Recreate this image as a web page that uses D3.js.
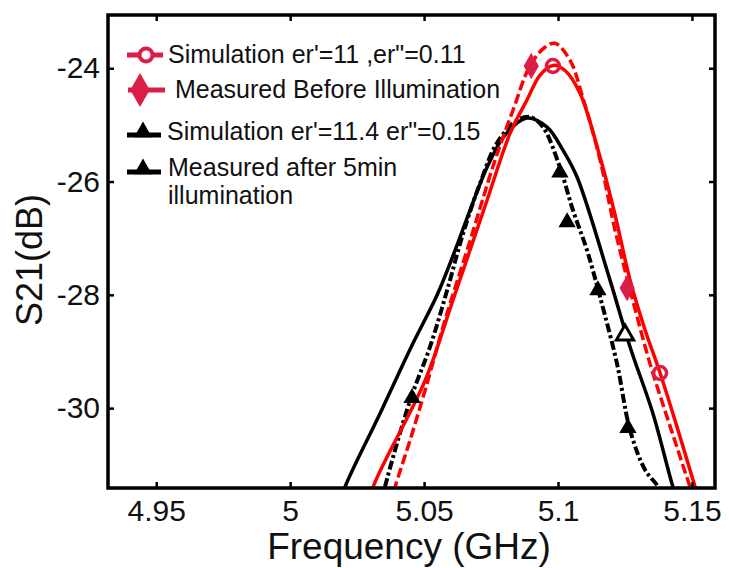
<!DOCTYPE html>
<html>
<head>
<meta charset="utf-8">
<script src="https://cdn.jsdelivr.net/npm/d3@7"></script>
<style>
  body { margin: 0; background: #fff; }
  svg { font-family: "Liberation Sans", Arial, sans-serif; }
</style>
</head>
<body>
<div id="chart"><svg></svg></div>
<script>
// values: frequency (GHz) and S21 (dB)
const simRedF = [5.0290, 5.0310, 5.0504, 5.0608, 5.0735, 5.0821, 5.0884, 5.0933, 5.0981, 5.1026, 5.1082, 5.1157, 5.1213, 5.1269, 5.1325, 5.1381, 5.1448, 5.1504, 5.1525];
const simRedV = [-31.8, -31.39, -29.51, -28.09, -26.33, -25.15, -24.56, -24.12, -23.95, -24.04, -24.44, -25.57, -26.59, -27.74, -28.62, -29.38, -30.39, -31.27, -31.6];

const measRedF = [5.0375, 5.0392, 5.0448, 5.0504, 5.0578, 5.0672, 5.0765, 5.0832, 5.0896, 5.0951, 5.0989, 5.1045, 5.1090, 5.1157, 5.1213, 5.1276, 5.1343, 5.1399, 5.1444, 5.1493, 5.1510];
const measRedV = [-31.7, -31.39, -30.56, -29.68, -28.45, -27.04, -25.62, -24.74, -23.95, -23.63, -23.56, -23.86, -24.48, -25.62, -26.86, -28.04, -29.21, -30.04, -30.69, -31.39, -31.6];

const simBlackF = [5.0185, 5.0205, 5.0336, 5.0455, 5.0549, 5.0616, 5.0679, 5.0739, 5.0802, 5.0884, 5.0959, 5.1019, 5.1071, 5.1194, 5.1269, 5.1354, 5.1429, 5.1445];
const simBlackV = [-31.7, -31.39, -30.09, -28.89, -28.0, -27.21, -26.41, -25.71, -25.18, -24.88, -25.04, -25.45, -25.92, -27.74, -28.92, -30.09, -31.39, -31.6];

const measBlackF = [5.0340, 5.0354, 5.0448, 5.0522, 5.0586, 5.0646, 5.0709, 5.0772, 5.0847, 5.0896, 5.0944, 5.1007, 5.1056, 5.1108, 5.1157, 5.1220, 5.1269, 5.1325, 5.1373, 5.1385];
const measBlackV = [-31.7, -31.39, -29.86, -28.92, -27.92, -26.91, -26.03, -25.32, -24.92, -24.86, -25.04, -25.75, -26.51, -27.21, -28.04, -29.21, -30.39, -31.09, -31.39, -31.6];

// marker spots
const simRedMarkF = [5.0981, 5.1381];
const simRedMarkV = [-23.96, -29.38];
const measRedMarkF = [5.0900, 5.1258];
const measRedMarkV = [-23.96, -27.88];
const simBlackMarkF = [5.1250];
const simBlackMarkV = [-28.71];
const measBlackMarkF = [5.0455, 5.1007, 5.1034, 5.1149, 5.1261];
const measBlackMarkV = [-29.82, -25.84, -26.72, -27.92, -30.35];

const xTicks = [4.95, 5, 5.05, 5.1, 5.15];
const yTicks = [-24, -26, -28, -30];

const legendLabels = ["Simulation er'=11 ,er\"=0.11", " Measured Before Illumination", "Simulation er'=11.4 er\"=0.15", "Measured after 5min", "illumination"];

const margin = { top: 15, right: 14, bottom: 80, left: 108 };
const width = 729 - margin.left - margin.right;
const height = 488 - margin.top;

const svg = d3.select("#chart svg")
  .attr("width", 729)
  .attr("height", 568);

const g = svg.append("g")
  .attr("transform", `translate(${margin.left}, ${margin.top})`);

const xScale = d3.scaleLinear().domain([4.932, 5.1586]).range([0, width]);
const yScale = d3.scaleLinear().domain([-31.41, -23.06]).range([height, 0]);

const red = "#ff0000";
const crimson = "#dc1e46";

g.append("clipPath").attr("id", "clip")
  .append("rect").attr("width", width).attr("height", height);

const line = d3.line()
  .x(d => xScale(d[0]))
  .y(d => yScale(d[1]))
  .curve(d3.curveCatmullRom);

const zip = (a, b) => a.map((v, i) => [v, b[i]]);

const plot = g.append("g").attr("clip-path", "url(#clip)");

plot.append("path").datum(zip(simBlackF, simBlackV))
  .attr("d", line).attr("fill", "none").attr("stroke", "#000").attr("stroke-width", 3.5);
plot.append("path").datum(zip(measBlackF, measBlackV))
  .attr("d", line).attr("fill", "none").attr("stroke", "#000").attr("stroke-width", 4)
  .attr("stroke-dasharray", "9,3,3,3");
plot.append("path").datum(zip(simRedF, simRedV))
  .attr("d", line).attr("fill", "none").attr("stroke", red).attr("stroke-width", 3.5);
plot.append("path").datum(zip(measRedF, measRedV))
  .attr("d", line).attr("fill", "none").attr("stroke", red).attr("stroke-width", 3.5)
  .attr("stroke-dasharray", "10,4");

const tri = d3.symbol().type(d3.symbolTriangle).size(130);
const dia = d3.symbol().type(d3.symbolDiamond).size(200);

plot.selectAll(".simRed").data(zip(simRedMarkF, simRedMarkV)).join("circle")
  .attr("cx", d => xScale(d[0])).attr("cy", d => yScale(d[1])).attr("r", 6.5)
  .attr("fill", "none").attr("stroke", crimson).attr("stroke-width", 3.5);
plot.selectAll(".measRed").data(zip(measRedMarkF, measRedMarkV)).join("path")
  .attr("d", dia).attr("transform", d => `translate(${xScale(d[0])},${yScale(d[1])})`)
  .attr("fill", crimson);
plot.selectAll(".simBlack").data(zip(simBlackMarkF, simBlackMarkV)).join("path")
  .attr("d", tri).attr("transform", d => `translate(${xScale(d[0])},${yScale(d[1])})`)
  .attr("fill", "#fff").attr("stroke", "#000").attr("stroke-width", 3);
plot.selectAll(".measBlack").data(zip(measBlackMarkF, measBlackMarkV)).join("path")
  .attr("d", tri).attr("transform", d => `translate(${xScale(d[0])},${yScale(d[1])})`)
  .attr("fill", "#000");

// axes with inward ticks on all four sides
const xAxis = d3.axisBottom(xScale).tickValues(xTicks).tickSize(-6).tickPadding(12).tickFormat(d3.format("~g"));
const yAxis = d3.axisLeft(yScale).tickValues(yTicks).tickSize(-6).tickPadding(8).tickFormat(d => d);

const gx = g.append("g").attr("transform", `translate(0, ${height})`).call(xAxis);
const gy = g.append("g").call(yAxis);
g.append("g").call(d3.axisTop(xScale).tickValues(xTicks).tickSize(-6).tickFormat(""));
g.append("g").attr("transform", `translate(${width}, 0)`).call(d3.axisRight(yScale).tickValues(yTicks).tickSize(-6).tickFormat(""));

g.selectAll(".domain").remove();
g.selectAll(".tick line").attr("stroke", "#000").attr("stroke-width", 2.5);
gx.selectAll("text").attr("font-size", 30).attr("fill", "#111");
gy.selectAll("text").attr("font-size", 30).attr("fill", "#111");

g.append("rect").attr("width", width).attr("height", height)
  .attr("fill", "none").attr("stroke", "#000").attr("stroke-width", 3.5);

svg.append("text").attr("x", 409).attr("y", 559).attr("text-anchor", "middle")
  .attr("font-size", 37).attr("fill", "#111").text("Frequency (GHz)");
svg.append("text").attr("transform", "translate(42, 260) rotate(-90)").attr("text-anchor", "middle")
  .attr("font-size", 36).attr("fill", "#111").text("S21(dB)");

// legend
const leg = svg.append("g");
const rowY = [55, 90, 135, 172];
const textY = [63, 98, 140, 176, 204];
const textX = [168, 168, 167, 168, 168];

leg.append("line").attr("x1", 127).attr("x2", 163).attr("y1", rowY[0]).attr("y2", rowY[0])
  .attr("stroke", crimson).attr("stroke-width", 5);
leg.append("circle").attr("cx", 146).attr("cy", rowY[0]).attr("r", 6.5)
  .attr("fill", "#fff").attr("stroke", crimson).attr("stroke-width", 4);
leg.append("line").attr("x1", 128).attr("x2", 165).attr("y1", rowY[1]).attr("y2", rowY[1])
  .attr("stroke", crimson).attr("stroke-width", 5);
leg.append("path").attr("d", d3.symbol().type(d3.symbolDiamond).size(330))
  .attr("transform", `translate(140, ${rowY[1]})`).attr("fill", crimson);
leg.append("line").attr("x1", 127).attr("x2", 161).attr("y1", rowY[2]).attr("y2", rowY[2])
  .attr("stroke", "#000").attr("stroke-width", 5);
leg.append("path").attr("d", d3.symbol().type(d3.symbolTriangle).size(140))
  .attr("transform", `translate(143, ${rowY[2] - 3})`).attr("fill", "#000");
leg.append("line").attr("x1", 127).attr("x2", 161).attr("y1", rowY[3]).attr("y2", rowY[3])
  .attr("stroke", "#000").attr("stroke-width", 5);
leg.append("path").attr("d", d3.symbol().type(d3.symbolTriangle).size(140))
  .attr("transform", `translate(143, ${rowY[3] - 3})`).attr("fill", "#000");

leg.selectAll("text").data(legendLabels).join("text")
  .attr("x", (d, i) => textX[i]).attr("y", (d, i) => textY[i])
  .attr("font-size", 25).attr("fill", "#111")
  .style("white-space", "pre")
  .text(d => d);
</script>
</body>
</html>
